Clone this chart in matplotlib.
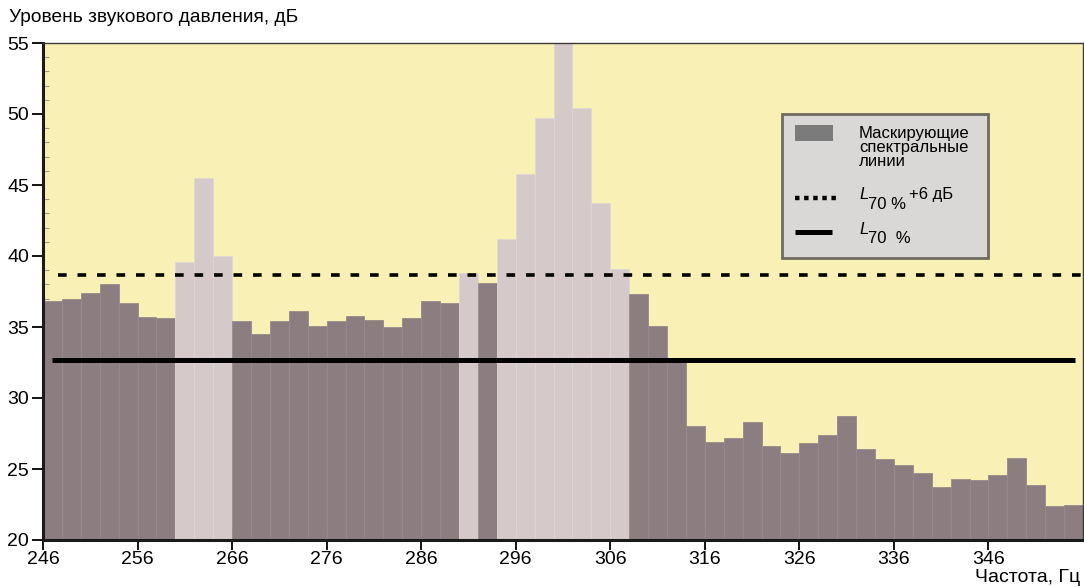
import matplotlib
matplotlib.use("Agg")
import matplotlib.pyplot as plt
from matplotlib.patches import Rectangle
from matplotlib.lines import Line2D
from matplotlib.ticker import MultipleLocator, FixedLocator

plt.rcParams['font.family'] = ['Liberation Sans', 'DejaVu Sans']

W, H = 1084, 587

# spectrum, 2 Hz bins starting at 246 Hz
f_start = 246
bin_width = 2
levels = [36.8, 37.0, 37.4, 38.0, 36.7, 35.7, 35.6,
          39.6, 45.5, 40.0,
          35.4, 34.5, 35.4, 36.1, 35.1, 35.4, 35.8, 35.5, 35.0, 35.6, 36.8, 36.7,
          38.8, 38.1,
          41.2, 45.8, 49.7, 57.0, 50.4, 43.7, 39.1,
          37.3, 35.1, 32.8, 28.0, 26.9, 27.2, 28.3, 26.6, 26.1, 26.8, 27.4, 28.7,
          26.4, 25.7, 25.3, 24.7, 23.7, 24.3, 24.2, 24.6, 25.8, 23.9, 22.4, 22.5]
# bins belonging to the tone (not masking)
tone_bins = [260, 262, 264, 290, 294, 296, 298, 300, 302, 304, 306]

l70 = 32.65
l70_plus6 = l70 + 6
l70_span = (246.9, 355.2)
l70_plus6_span = (247.6, 356)

x_ticks = [246, 256, 266, 276, 286, 296, 306, 316, 326, 336, 346]
y_ticks = [20, 25, 30, 35, 40, 45, 50, 55]

freqs = [f_start + bin_width * i for i in range(len(levels))]
dark = '#8b7d80'
light = '#d5c9c9'


def px(x, y):
    # pixel position -> figure fraction
    return x / W, 1 - y / H


fig = plt.figure(figsize=(W / 100, H / 100), dpi=100)
ax = fig.add_axes([43 / W, 47 / H, 1040 / W, 497 / H])
ax.set_facecolor('#f8f0b4')

colors = [light if f in tone_bins else dark for f in freqs]
edges = ['#e0d6d6' if f in tone_bins else '#978a8d' for f in freqs]
ax.bar(freqs, levels, width=bin_width, align='edge', color=colors,
       edgecolor=edges, linewidth=0.6, zorder=2)

ax.plot(l70_plus6_span, [l70_plus6, l70_plus6], color='black', lw=2.6,
        linestyle=(0, (2.4, 3.0)), zorder=3)
ax.plot(l70_span, [l70, l70], color='black', lw=3.6, zorder=3,
        solid_capstyle='butt')

ax.set_xlim(246, 356)
ax.set_ylim(20, 55)
ax.xaxis.set_major_locator(FixedLocator(x_ticks))
ax.xaxis.set_minor_locator(FixedLocator([t + 5 for t in x_ticks]))
ax.yaxis.set_major_locator(FixedLocator(y_ticks))
ax.yaxis.set_minor_locator(MultipleLocator(1))

ax.tick_params(axis='x', which='major', direction='inout', length=14, width=1.3,
               labelsize=14, pad=1)
ax.tick_params(axis='x', which='minor', direction='in', length=6, width=1.0)
ax.tick_params(axis='y', which='major', direction='out', length=8, width=1.3,
               labelsize=14, pad=2)
ax.tick_params(axis='y', which='minor', direction='in', length=4, width=0.8,
               color='#9a9a80')

for s in ['left', 'bottom']:
    ax.spines[s].set_linewidth(2.2)
    ax.spines[s].set_color('#1a1a1a')
for s in ['top', 'right']:
    ax.spines[s].set_linewidth(1.0)
    ax.spines[s].set_color('#3a3a3a')

# legend box drawn by hand so the pieces sit like in the original
x0, y0 = px(782, 258)
x1, y1 = px(988, 114)
fig.add_artist(Rectangle((x0, y0), x1 - x0, y1 - y0, transform=fig.transFigure,
                         facecolor='#d9d8d6', edgecolor='#6e6b5f', lw=2.0,
                         zorder=5))
px0, py0 = px(795, 141)
px1, py1 = px(833, 125)
fig.add_artist(Rectangle((px0, py0), px1 - px0, py1 - py0,
                         transform=fig.transFigure, facecolor='#7b7b7b',
                         edgecolor='none', zorder=6))
fig.add_artist(Line2D([px(795, 0)[0], px(836, 0)[0]], [px(0, 198)[1]] * 2,
                      transform=fig.transFigure, color='black', lw=3.2,
                      linestyle=(0, (1, 1.05)), zorder=6))
fig.add_artist(Line2D([px(795, 0)[0], px(832, 0)[0]], [px(0, 232)[1]] * 2,
                      transform=fig.transFigure, color='black', lw=3.6,
                      solid_capstyle='butt', zorder=6))

leg_fs = 12
for line, yb in zip(['Маскирующие', 'спектральные', 'линии'], [138, 152, 166]):
    fig.text(*px(859, yb), line, fontsize=leg_fs, va='baseline', zorder=7)

fig.text(*px(859, 199), 'L', fontsize=12, style='italic',
         va='baseline', zorder=7)
fig.text(*px(868, 209), '70 %', fontsize=12, va='baseline', zorder=7)
fig.text(*px(909, 199), '+6 дБ', fontsize=12, va='baseline', zorder=7)
fig.text(*px(859, 234), 'L', fontsize=12, style='italic',
         va='baseline', zorder=7)
fig.text(*px(868, 243), '70  %', fontsize=12, va='baseline', zorder=7)

fig.text(*px(9, 22), 'Уровень звукового давления, дБ',
         fontsize=13.8, ha='left', va='baseline')
fig.text(*px(1080, 582), 'Частота, Гц', fontsize=14,
         ha='right', va='baseline')

fig.savefig('out.png', dpi=100)
